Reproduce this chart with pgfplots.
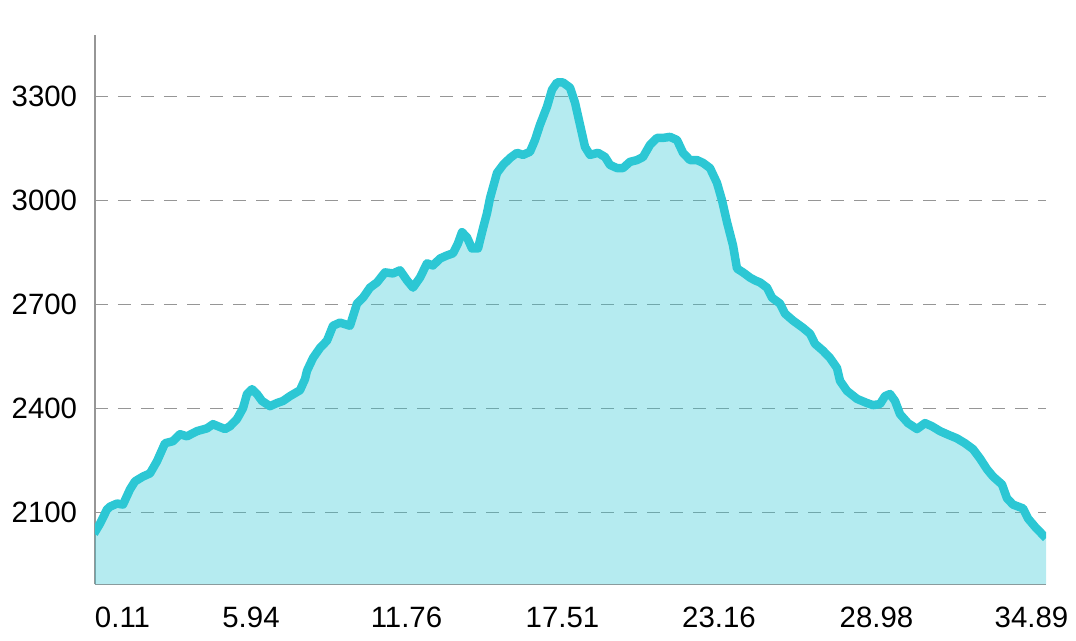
\documentclass[border=0pt]{standalone}
\usepackage{fontspec}
\setmainfont{Liberation Sans}
\usepackage{pgfplots}
\pgfplotsset{compat=1.18}
\definecolor{lineC}{RGB}{44,199,212}
\definecolor{gridC}{RGB}{150,150,150}
\definecolor{axC}{RGB}{150,150,150}
\begin{document}
\begin{tikzpicture}
\useasboundingbox (-95bp,-56.7bp) rectangle (981bp,584.3bp);
\begin{axis}[
  at={(0,0)}, anchor=south west,
  width=951bp, height=549.3bp, scale only axis,
  xmin=95, xmax=1046, ymin=1893, ymax=3478,
  axis x line*=bottom, axis y line*=left,
  axis line style={axC, line width=1.2bp},
  ytick={2100,2400,2700,3000,3300},
  ymajorgrids, xmajorgrids=false,
  grid style={gridC, dash pattern=on 13bp off 10bp, line width=1.3bp},
  xtick={122.5,251,406.5,562.5,719,876.5,1031.5},
  xticklabels={0.11,5.94,11.76,17.51,23.16,28.98,34.89},
  major tick length=0pt,
  tick label style={font=\fontsize{29.5}{33}\selectfont, text=black, inner sep=0pt},
  /pgf/number format/assume math mode=true,
  /pgf/number format/1000 sep={},
  yticklabel style={anchor=east, xshift=-17.7bp},
  xticklabel style={anchor=north, yshift=-22.4bp},
]
\addplot[draw=none, fill=lineC, fill opacity=0.35] coordinates {
(94,2039) (100,2068) (107,2109) (110,2117) (117,2126) (123,2123) (130,2167) (135,2190) (143,2204) (150,2213)
(157,2248) (165,2300) (173,2306) (180,2326) (187,2320) (197,2335) (207,2343) (213,2355) (218,2349) (225,2341)
(230,2349) (237,2370) (243,2401) (247,2442) (252,2456) (257,2442) (262,2422) (270,2407) (277,2416) (283,2422)
(290,2436) (300,2453) (305,2485) (307,2509) (313,2546) (320,2575) (327,2596) (333,2639) (340,2648) (350,2639)
(357,2703) (363,2720) (370,2749) (377,2764) (385,2793) (393,2790) (400,2799) (407,2770) (413,2749) (420,2778)
(427,2819) (433,2813) (440,2833) (447,2842) (453,2848) (458,2877) (462,2909) (467,2894) (472,2862) (478,2862)
(483,2920) (487,2964) (490,3007) (497,3080) (503,3103) (510,3123) (517,3138) (523,3132) (530,3141) (535,3175)
(540,3219) (547,3271) (552,3320) (557,3341) (563,3341) (570,3326) (575,3283) (580,3219) (585,3155) (590,3132)
(598,3138) (605,3126) (610,3103) (617,3094) (623,3094) (630,3112) (637,3117) (643,3126) (650,3161) (657,3181)
(663,3181) (670,3184) (677,3175) (683,3138) (690,3117) (697,3117) (703,3109) (710,3094) (717,3051) (722,3001)
(727,2938) (733,2871) (737,2804) (743,2793) (750,2778) (755,2770) (760,2764) (767,2749) (772,2720) (780,2703)
(785,2674) (793,2654) (803,2633) (810,2616) (815,2587) (823,2567) (830,2546) (837,2517) (840,2480) (847,2451)
(857,2428) (867,2416) (873,2410) (880,2413) (885,2436) (890,2442) (895,2422) (900,2384) (908,2358) (917,2341)
(925,2358) (932,2349) (940,2335) (947,2326) (957,2314) (965,2300) (973,2283) (980,2256) (987,2225) (993,2204)
(1002,2181) (1007,2141) (1013,2123) (1023,2112) (1028,2083) (1035,2059) (1046,2026)
} \closedcycle;
\addplot[lineC, line width=8.5bp, line join=round] coordinates {
(94,2039) (100,2068) (107,2109) (110,2117) (117,2126) (123,2123) (130,2167) (135,2190) (143,2204) (150,2213)
(157,2248) (165,2300) (173,2306) (180,2326) (187,2320) (197,2335) (207,2343) (213,2355) (218,2349) (225,2341)
(230,2349) (237,2370) (243,2401) (247,2442) (252,2456) (257,2442) (262,2422) (270,2407) (277,2416) (283,2422)
(290,2436) (300,2453) (305,2485) (307,2509) (313,2546) (320,2575) (327,2596) (333,2639) (340,2648) (350,2639)
(357,2703) (363,2720) (370,2749) (377,2764) (385,2793) (393,2790) (400,2799) (407,2770) (413,2749) (420,2778)
(427,2819) (433,2813) (440,2833) (447,2842) (453,2848) (458,2877) (462,2909) (467,2894) (472,2862) (478,2862)
(483,2920) (487,2964) (490,3007) (497,3080) (503,3103) (510,3123) (517,3138) (523,3132) (530,3141) (535,3175)
(540,3219) (547,3271) (552,3320) (557,3341) (563,3341) (570,3326) (575,3283) (580,3219) (585,3155) (590,3132)
(598,3138) (605,3126) (610,3103) (617,3094) (623,3094) (630,3112) (637,3117) (643,3126) (650,3161) (657,3181)
(663,3181) (670,3184) (677,3175) (683,3138) (690,3117) (697,3117) (703,3109) (710,3094) (717,3051) (722,3001)
(727,2938) (733,2871) (737,2804) (743,2793) (750,2778) (755,2770) (760,2764) (767,2749) (772,2720) (780,2703)
(785,2674) (793,2654) (803,2633) (810,2616) (815,2587) (823,2567) (830,2546) (837,2517) (840,2480) (847,2451)
(857,2428) (867,2416) (873,2410) (880,2413) (885,2436) (890,2442) (895,2422) (900,2384) (908,2358) (917,2341)
(925,2358) (932,2349) (940,2335) (947,2326) (957,2314) (965,2300) (973,2283) (980,2256) (987,2225) (993,2204)
(1002,2181) (1007,2141) (1013,2123) (1023,2112) (1028,2083) (1035,2059) (1046,2026)
};
\end{axis}
\end{tikzpicture}
\end{document}
